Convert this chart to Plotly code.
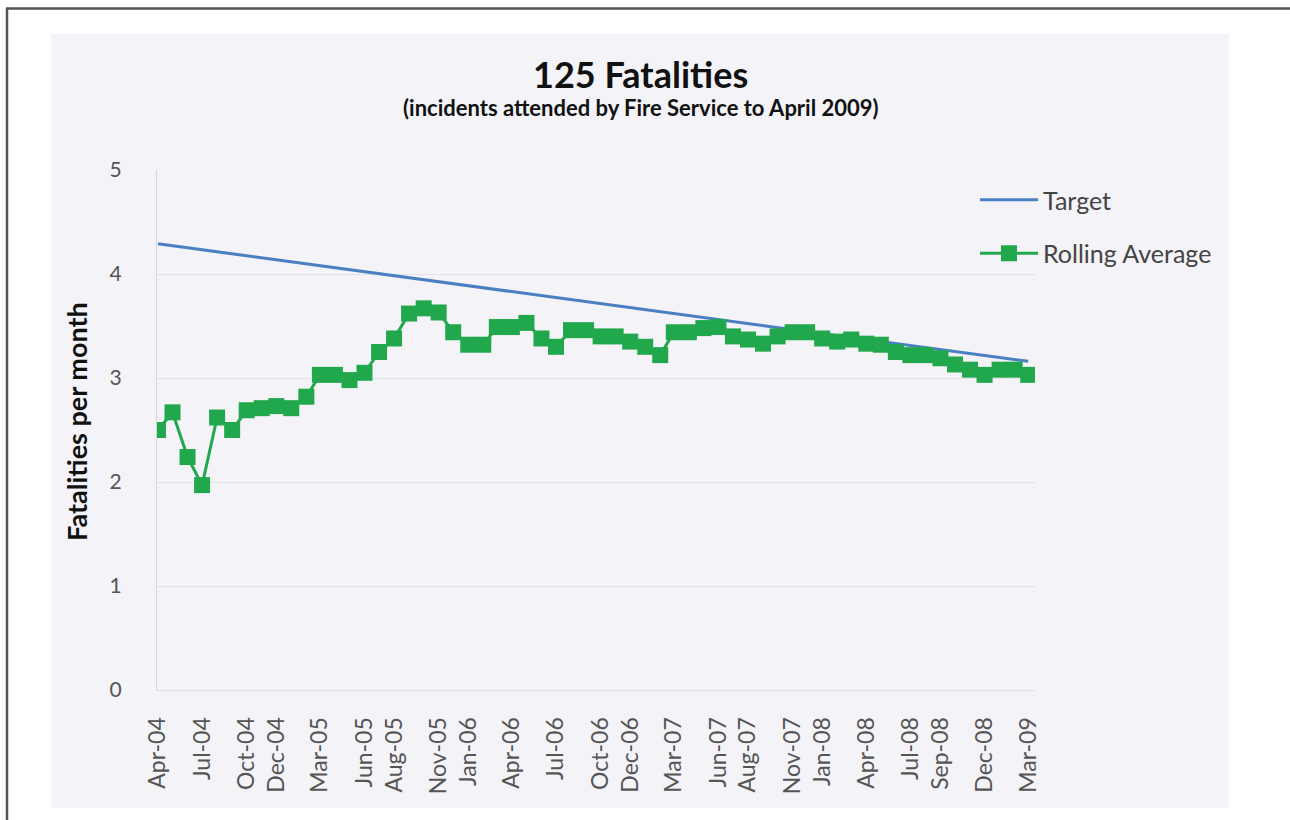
import pandas as pd
import plotly.graph_objects as go

# ---- data ----
months = pd.date_range("2004-04-01", "2009-03-01", freq="MS")
rolling_avg = [2.50, 2.67, 2.24, 1.97, 2.62, 2.50, 2.69, 2.71, 2.73, 2.71,
               2.82, 3.03, 3.03, 2.98, 3.05, 3.25, 3.38, 3.62, 3.67, 3.63,
               3.44, 3.32, 3.32, 3.49, 3.49, 3.53, 3.38, 3.30, 3.46, 3.46,
               3.40, 3.40, 3.35, 3.30, 3.22, 3.44, 3.44, 3.48, 3.49, 3.40,
               3.37, 3.33, 3.40, 3.44, 3.44, 3.38, 3.35, 3.37, 3.33, 3.32,
               3.25, 3.22, 3.22, 3.19, 3.13, 3.08, 3.03, 3.08, 3.08, 3.03]
target_dates = ["2004-04-01", "2009-03-01"]
target_vals = [4.29, 3.16]
tick_labels = ["Apr-04", "Jul-04", "Oct-04", "Dec-04", "Mar-05", "Jun-05", "Aug-05",
               "Nov-05", "Jan-06", "Apr-06", "Jul-06", "Oct-06", "Dec-06", "Mar-07",
               "Jun-07", "Aug-07", "Nov-07", "Jan-08", "Apr-08", "Jul-08", "Sep-08",
               "Dec-08", "Mar-09"]
tick_dates = pd.to_datetime(["01-" + t for t in tick_labels], format="%d-%b-%y")

W, H = 1290, 820
ML, MR, MT, MB = 157, 255, 170, 130
PW, PH = W - ML - MR, H - MT - MB

def px_x(x):
    return (x - ML) / PW

def px_y(y):
    return (H - MB - y) / PH

FONT = "Lato, Carlito, Calibri, sans-serif"
BLUE = "#4a7fc1"
GREEN = "#22a84c"

fig = go.Figure()
fig.add_trace(go.Scatter(
    x=target_dates, y=target_vals, mode="lines", name="Target",
    line=dict(color=BLUE, width=3), legendgroup="a"))
fig.add_trace(go.Scatter(
    x=months, y=rolling_avg, mode="lines+markers", name="Rolling Average",
    line=dict(color=GREEN, width=3),
    marker=dict(symbol="square", size=16, color=GREEN, line=dict(width=0)),
    legendgroup="b"))

shapes = [
    dict(type="rect", xref="paper", yref="paper",
         x0=px_x(51), x1=px_x(1229), y0=px_y(808), y1=px_y(34),
         fillcolor="#f3f3f8", line=dict(width=0), layer="below"),
    dict(type="line", xref="paper", yref="paper",
         x0=px_x(6), x1=px_x(1290), y0=px_y(8.5), y1=px_y(8.5),
         line=dict(color="#555555", width=2.5)),
    dict(type="line", xref="paper", yref="paper",
         x0=px_x(7), x1=px_x(7), y0=px_y(8), y1=px_y(820),
         line=dict(color="#555555", width=2.5)),
]

annotations = [
    dict(text="<b>125 Fatalities</b>", xref="paper", yref="paper",
         x=px_x(640), y=px_y(74), showarrow=False, xanchor="center", yanchor="middle",
         font=dict(family=FONT, size=36, color="#111111")),
    dict(text="<b>(incidents attended by Fire Service to April 2009)</b>",
         xref="paper", yref="paper", x=px_x(641), y=px_y(107), showarrow=False,
         xanchor="center", yanchor="middle",
         font=dict(family=FONT, size=22, color="#111111")),
    dict(text="<b>Fatalities per month</b>", xref="paper", yref="paper",
         x=px_x(76), y=px_y(422), showarrow=False, textangle=-90,
         xanchor="center", yanchor="middle",
         font=dict(family=FONT, size=27, color="#111111")),
]

fig.update_layout(
    width=W, height=H,
    margin=dict(l=ML, r=MR, t=MT, b=MB),
    paper_bgcolor="white", plot_bgcolor="rgba(0,0,0,0)",
    shapes=shapes, annotations=annotations,
    showlegend=True,
    legend=dict(x=px_x(975), y=px_y(177), xanchor="left", yanchor="top",
                bgcolor="rgba(0,0,0,0)", font=dict(family=FONT, size=25, color="#444444"),
                itemwidth=58, tracegroupgap=18, traceorder="grouped"),
    xaxis=dict(type="date", range=["2004-03-30", "2009-03-15"],
               tickvals=tick_dates, ticktext=tick_labels, tickangle=-90,
               tickfont=dict(family=FONT, size=23, color="#555555"),
               showgrid=False, showline=True, linecolor="#e0e0e6", linewidth=1,
               ticks="", ticklabelstandoff=17),
    yaxis=dict(range=[0, 5], tickvals=[0, 1, 2, 3, 4, 5],
               tickfont=dict(family=FONT, size=21, color="#555555"),
               showgrid=True, gridcolor="#e2e2e8", gridwidth=1,
               showline=True, linecolor="#d4d4da", linewidth=1,
               zeroline=False, ticks="", ticklabelstandoff=30),
)

fig.write_html("out.html", config={"displayModeBar": False},
               post_script="document.body.style.margin='0';document.body.style.padding='0';document.body.style.overflow='hidden';")
